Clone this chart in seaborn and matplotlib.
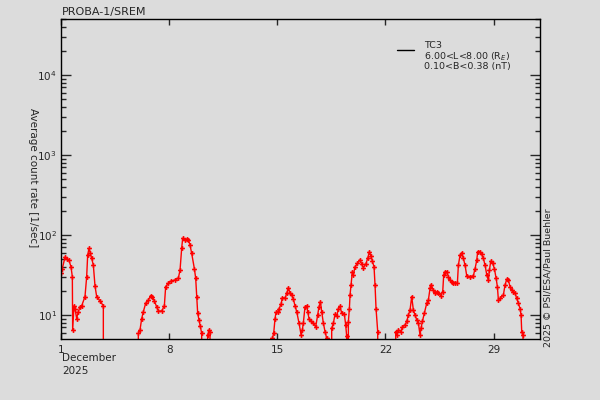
import numpy as np
import pandas as pd
import matplotlib
matplotlib.use("Agg")
import matplotlib.pyplot as plt
import seaborn as sns

# ---------------------------------------------------------------
# data: day of month (December 2025) and average count rate [1/sec]
# 0.0 marks intervals without data (line drops to the axis)
# ---------------------------------------------------------------
day = [1.000, 1.086, 1.259, 1.367, 1.518, 1.647, 1.734, 1.755, 1.841, 1.906,
       2.014, 2.122, 2.230, 2.338, 2.553, 2.661, 2.726, 2.812, 2.899, 2.985,
       3.093, 3.201, 3.308, 3.524, 3.740, 3.783,
       5.962, 6.005, 6.113, 6.221, 6.329, 6.480, 6.653, 6.804, 6.912, 7.041,
       7.192, 7.300, 7.516, 7.688, 7.774, 7.947, 8.120, 8.379, 8.594, 8.702,
       8.810, 8.875, 9.026, 9.134, 9.242, 9.350, 9.457, 9.630, 9.716, 9.781,
       9.846, 9.932, 10.018, 10.105, 10.150,
       10.428, 10.490, 10.579, 10.644, 10.710,
       14.660, 14.679, 14.765, 14.851, 14.916, 15.024, 15.110, 15.239, 15.326,
       15.498, 15.606, 15.714, 15.822, 15.930, 16.038, 16.146, 16.254, 16.405,
       16.534, 16.621, 16.685, 16.793, 16.901, 16.966, 17.052, 17.182, 17.333,
       17.484, 17.613, 17.699, 17.786, 17.872, 17.980, 18.088, 18.196, 18.240,
       18.410, 18.519, 18.627, 18.735, 18.843, 18.951, 19.059, 19.167, 19.339,
       19.425, 19.490, 19.530, 19.580,
       19.598, 19.663, 19.706, 19.771, 19.857, 19.922, 20.030, 20.180, 20.353,
       20.461, 20.569, 20.720, 20.849, 20.957, 21.065, 21.151, 21.259, 21.324,
       21.389, 21.497, 21.540,
       22.620, 22.662, 22.726, 22.834, 23.007, 23.093, 23.266, 23.374, 23.481,
       23.589, 23.697, 23.805, 23.913, 24.021, 24.129, 24.237, 24.301, 24.388,
       24.517, 24.668, 24.776, 24.884, 24.949, 25.100, 25.208, 25.316, 25.423,
       25.574, 25.704, 25.768, 25.855, 25.963, 26.070, 26.179, 26.286, 26.394,
       26.502, 26.653, 26.718, 26.826, 26.934, 27.041, 27.149, 27.257, 27.473,
       27.689, 27.797, 27.904, 27.969, 28.120, 28.228, 28.336, 28.444, 28.552,
       28.660, 28.724, 28.811, 28.940, 29.048, 29.156, 29.242, 29.307, 29.415,
       29.630, 29.738, 29.846, 29.954, 30.062, 30.170, 30.278, 30.386, 30.494,
       30.601, 30.709, 30.774, 30.817, 30.903, 30.950]

rate = [33, 38, 53, 50, 48, 40, 30, 6.5, 13, 12,
        9, 11, 12.7, 13, 17, 30, 56, 68, 59, 51,
        42, 23, 17, 15, 13, 0.0,
        0.0, 5.9, 6.5, 9, 11, 14, 15.4, 17.5, 17, 15,
        12.7, 11.2, 11.2, 13, 22.6, 25, 26.6, 27.4, 29, 36,
        68, 91, 87, 89, 87, 75, 59, 38, 29, 17,
        10.5, 8.7, 7.2, 5.9, 0.0,
        0.0, 5.6, 6.5, 6.2, 0.0,
        0.0, 5.1, 5.9, 9, 10.8, 10.8, 12, 13.6, 16.5,
        16.2, 18.6, 22, 18.6, 17.8, 15.8, 13, 11, 7.9,
        5.7, 6.5, 8, 12.7, 13, 11, 9, 8.3, 7.9,
        7.1, 10, 12.7, 14.7, 11, 7.9, 6.2, 5.1, 0.0,
        0.0, 6.8, 7.9, 10.2, 9.6, 12, 12.9, 10.5, 10.2,
        7.5, 5.4, 0.0, 0.0,
        8.2, 12, 17.8, 23.7, 34.8, 32, 40, 44, 49,
        43, 39, 43, 51, 62, 54, 47, 40, 23.7,
        12, 6.2, 0.0,
        0.0, 6.2, 5.6, 6.5, 6.2, 7.1, 7.5, 8.3, 10,
        11.5, 17, 11.5, 10, 8.7, 7.9, 5.6, 6.8, 8.3,
        10.5, 14, 15.4, 21.5, 24, 20.5, 18.6, 19.5, 18.6,
        17.5, 19.5, 31.6, 34.8, 34.8, 30, 27.4, 25.9, 25,
        25, 25, 42, 56, 60, 51, 42, 31, 30,
        31, 38, 48, 62, 62, 57, 51, 42, 32,
        27, 36, 47, 44, 38, 29, 22.6, 15.4, 16.2,
        17.8, 23.7, 28, 27, 22.6, 20.5, 19.5, 18.6, 16.2,
        14, 12, 10, 6.2, 5.6, 0.0]

x_ticks = [1, 8, 15, 22, 29]
legend_lines = ["TC3", "6.00<L<8.00 (R$_E$)", "0.10<B<0.38 (nT)"]

df = pd.DataFrame({"day": day, "rate": rate})

# ---------------------------------------------------------------
# style
# ---------------------------------------------------------------
bg = "#dcdcdc"
sns.set_style("ticks")
plt.rcParams["font.family"] = ["DejaVu Sans"]
plt.rcParams["font.size"] = 7.5

fig = plt.figure(figsize=(6, 4), dpi=100, facecolor=bg)
ax = fig.add_axes([61 / 600, 1 - 339 / 400, 479 / 600, 320 / 400])
ax.set_facecolor(bg)

sns.lineplot(data=df, x="day", y="rate", ax=ax, color="red", lw=1.0,
             marker="P", markersize=3.5, markeredgewidth=0, sort=False,
             estimator=None)

ax.set_yscale("log", nonpositive="clip")
ax.set_ylim(5.01, 5.0e4)
ax.set_xlim(1, 32)
ax.set_xticks(x_ticks)
ax.set_xticklabels([str(t) for t in x_ticks])
ax.set_xlabel("")
ax.set_ylabel("")

for s in ax.spines.values():
    s.set_color("black")
    s.set_linewidth(1.0)

ax.tick_params(axis="y", which="major", direction="in", length=7.5, width=1,
               left=True, right=True, labelsize=7.5, pad=3)
ax.tick_params(axis="y", which="minor", direction="in", length=3.8, width=1,
               left=True, right=True)
ax.tick_params(axis="x", which="major", direction="in", length=4.5, width=1,
               top=True, bottom=True, labelsize=7.5, pad=4)
ax.tick_params(axis="x", which="minor", bottom=False, top=False)

# texts
fig.text(62 / 600, 1 - 12 / 400, "PROBA-1/SREM", fontsize=8, va="center", ha="left")
fig.text(62 / 600, 1 - 358 / 400, "December", fontsize=7.5, va="center", ha="left")
fig.text(62 / 600, 1 - 371 / 400, "2025", fontsize=7.5, va="center", ha="left")
fig.text(33 / 600, 1 - 178 / 400, "Average count rate [1/sec]", rotation=-90,
         fontsize=7.5, va="center", ha="center")
fig.text(548 / 600, 1 - 278 / 400, "2025 \u00a9 PSI/ESA/Paul Buehler", rotation=90,
         fontsize=6.8, va="center", ha="center")

# legend
fig.add_artist(plt.Line2D([397 / 600, 414 / 600], [1 - 50 / 400, 1 - 50 / 400],
                          color="black", lw=1.0))
for i, t in enumerate(legend_lines):
    fig.text(424 / 600, 1 - (46 + i * 10.5) / 400, t, fontsize=6.8,
             va="center", ha="left", linespacing=1.0)

plt.savefig("out.png", dpi=100, facecolor=bg)
